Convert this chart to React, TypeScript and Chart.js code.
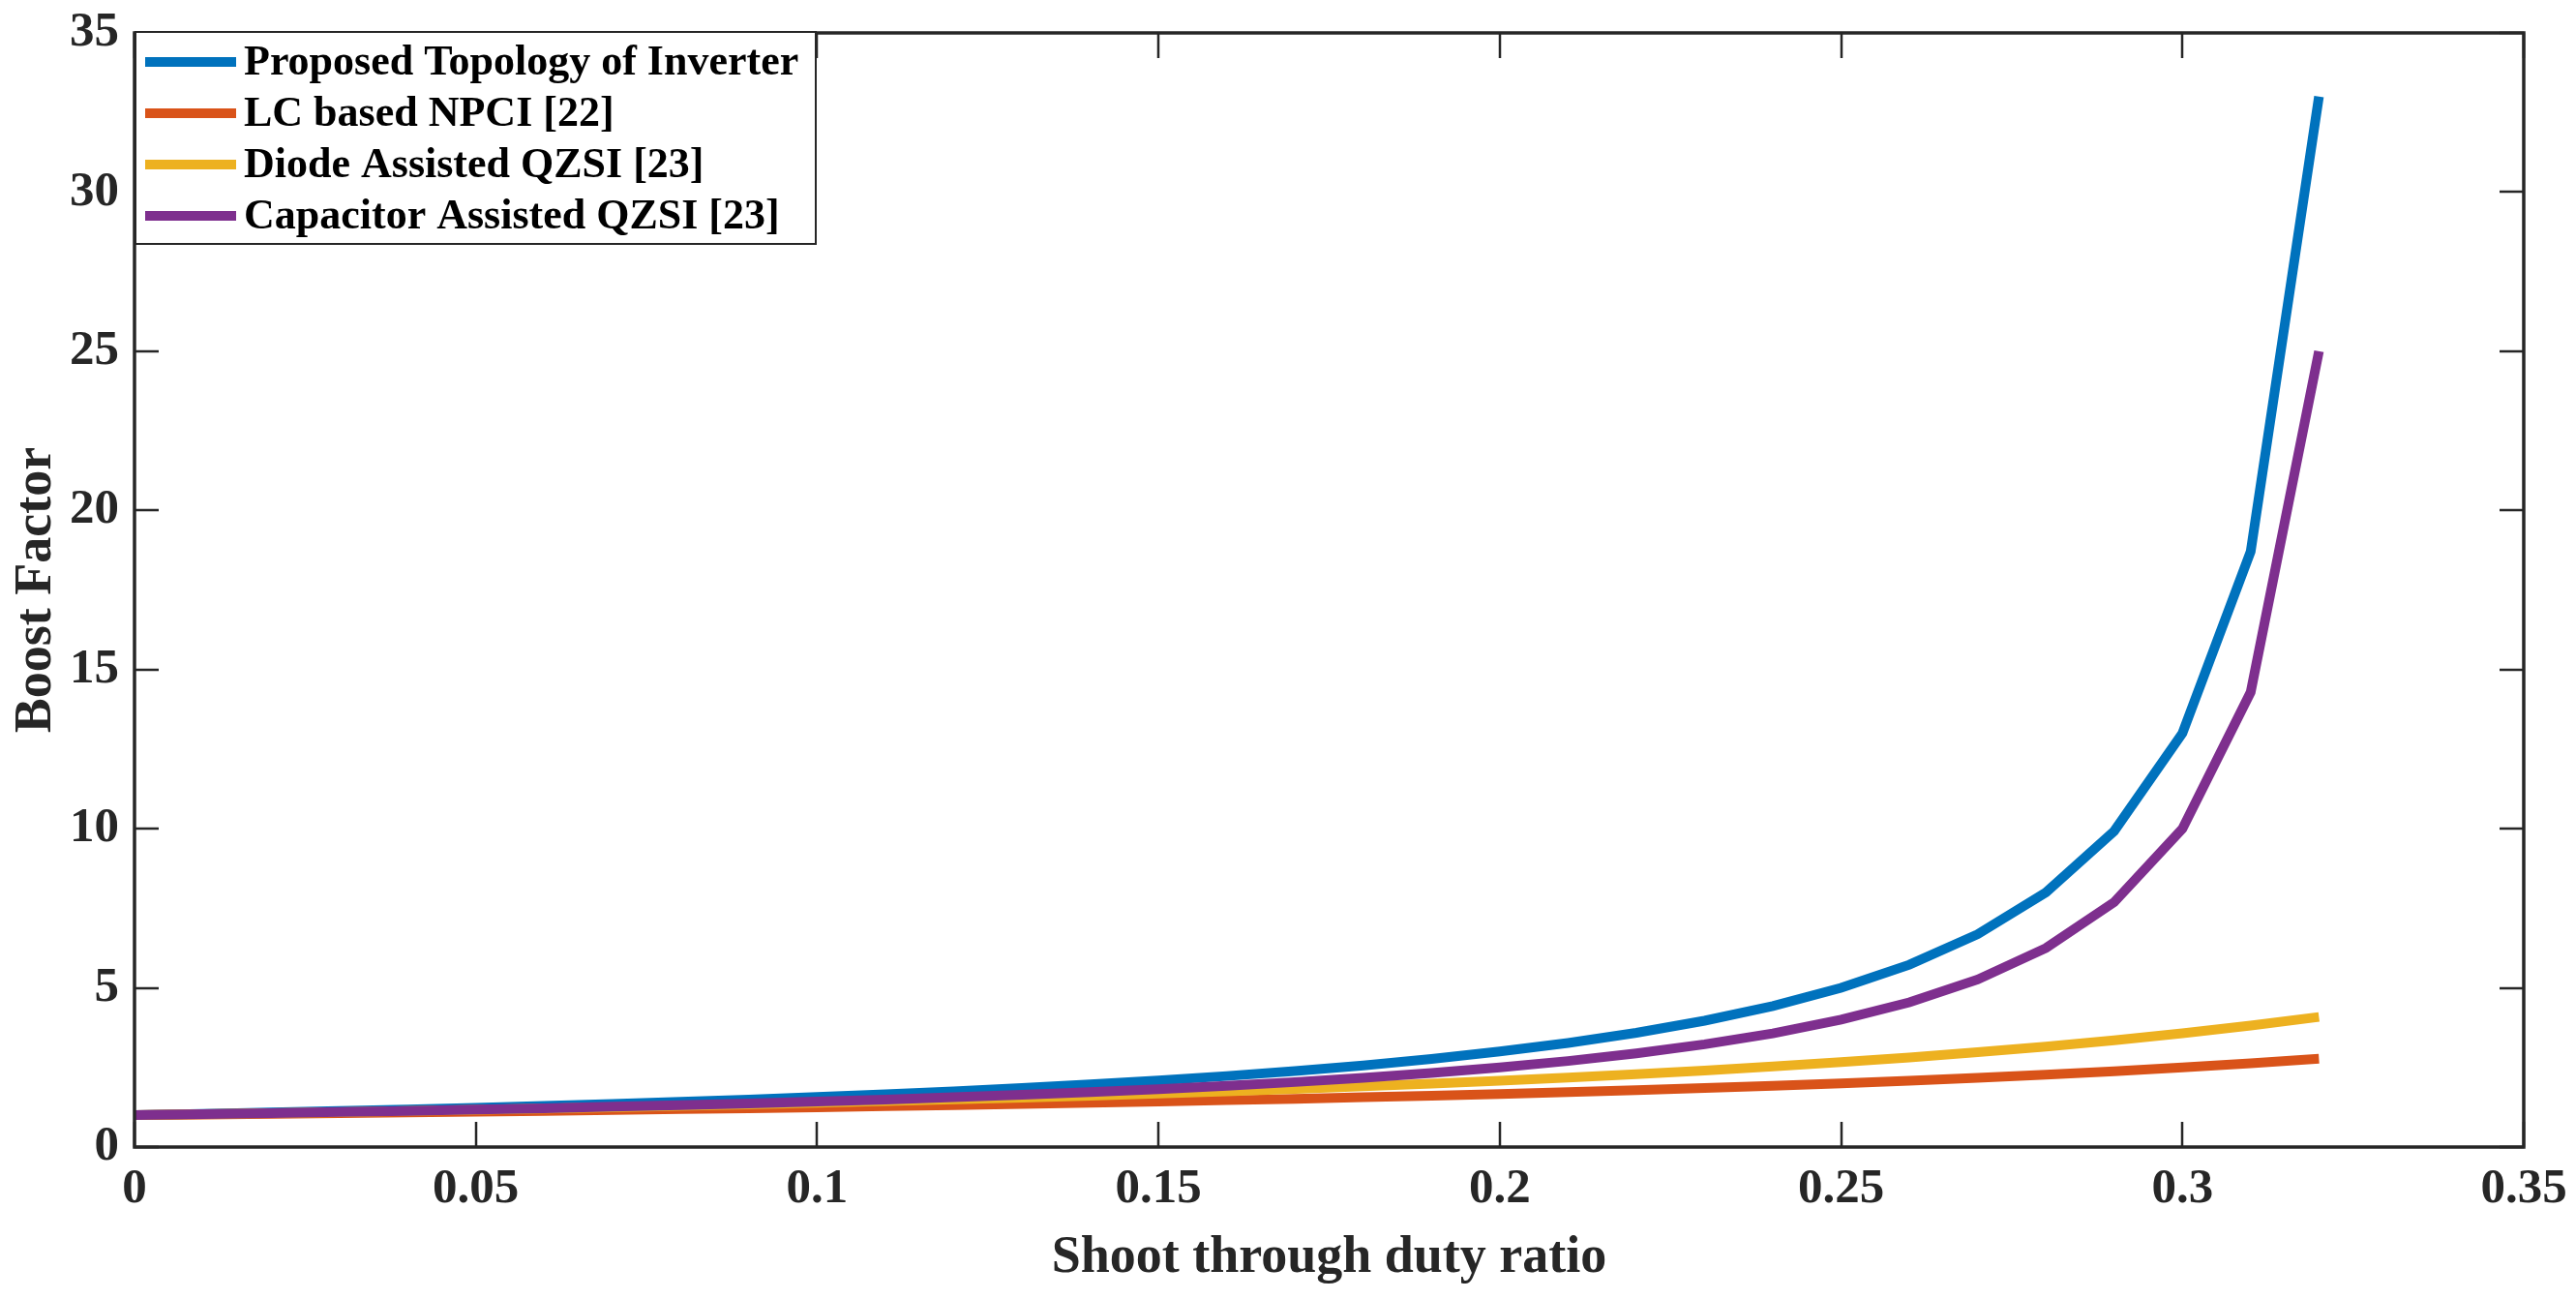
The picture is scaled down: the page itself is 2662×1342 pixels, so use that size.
import React, { useEffect, useRef } from "react";
import { Chart, registerables } from "chart.js";

Chart.register(...registerables);

const dutyRatio = [
  0, 0.01, 0.02, 0.03, 0.04, 0.05, 0.06, 0.07, 0.08, 0.09, 0.1, 0.11, 0.12, 0.13, 0.14, 0.15, 0.16,
  0.17, 0.18, 0.19, 0.2, 0.21, 0.22, 0.23, 0.24, 0.25, 0.26, 0.27, 0.28, 0.29, 0.3, 0.31, 0.32,
];

const proposedTopology = [
  1.0, 1.041, 1.085, 1.132, 1.182, 1.235, 1.293, 1.354, 1.421, 1.493, 1.571, 1.657, 1.75, 1.853,
  1.966, 2.091, 2.231, 2.388, 2.565, 2.767, 3.0, 3.27, 3.588, 3.968, 4.429, 5.0, 5.727, 6.684, 8.0,
  9.923, 13.0, 18.71, 33.0,
];

const lcBasedNPCI = [
  1.0, 1.02, 1.042, 1.064, 1.087, 1.111, 1.136, 1.163, 1.19, 1.22, 1.25, 1.282, 1.316, 1.351, 1.389,
  1.429, 1.471, 1.515, 1.563, 1.613, 1.667, 1.724, 1.786, 1.852, 1.923, 2.0, 2.083, 2.174, 2.273,
  2.381, 2.5, 2.632, 2.778,
];

const diodeAssistedQZSI = [
  1.0, 1.031, 1.063, 1.097, 1.132, 1.17, 1.209, 1.25, 1.294, 1.34, 1.389, 1.441, 1.495, 1.553, 1.615,
  1.681, 1.751, 1.826, 1.906, 1.991, 2.083, 2.183, 2.289, 2.405, 2.53, 2.667, 2.815, 2.978, 3.157,
  3.354, 3.571, 3.814, 4.085,
];

const capacitorAssistedQZSI = [
  1.0, 1.031, 1.064, 1.099, 1.136, 1.176, 1.22, 1.266, 1.316, 1.37, 1.429, 1.493, 1.563, 1.639, 1.724,
  1.818, 1.923, 2.041, 2.174, 2.326, 2.5, 2.703, 2.941, 3.226, 3.571, 4.0, 4.545, 5.263, 6.25, 7.692,
  10.0, 14.29, 25.0,
];

const seriesLabels = [
  "Proposed Topology of Inverter",
  "LC based NPCI [22]",
  "Diode Assisted QZSI [23]",
  "Capacitor Assisted QZSI [23]",
];
const seriesColors = ["#0072BD", "#D95319", "#EDB120", "#7E2F8E"];

const xTickValues = [0, 0.05, 0.1, 0.15, 0.2, 0.25, 0.3, 0.35];
const xTickLabels = ["0", "0.05", "0.1", "0.15", "0.2", "0.25", "0.3", "0.35"];
const yTickValues = [0, 5, 10, 15, 20, 25, 30, 35];
const yTickLabels = ["0", "5", "10", "15", "20", "25", "30", "35"];

const xTitle = "Shoot through duty ratio";
const yTitle = "Boost Factor";

const FONT = "'Liberation Serif', 'Times New Roman', serif";
const AXIS_COLOR = "#262626";

const framePlugin = {
  id: "matlabFrame",
  afterDatasetsDraw(chart: any) {
    const { ctx, chartArea, scales } = chart;
    const { left, right, top, bottom } = chartArea;
    const xs = scales.x;
    const ys = scales.y;
    ctx.save();
    ctx.strokeStyle = AXIS_COLOR;
    ctx.lineWidth = 2.5;
    ctx.beginPath();
    xs.ticks.forEach((t: any) => {
      const px = Math.round(xs.getPixelForValue(t.value));
      ctx.moveTo(px, bottom);
      ctx.lineTo(px, bottom - 26);
      ctx.moveTo(px, top);
      ctx.lineTo(px, top + 26);
    });
    ys.ticks.forEach((t: any) => {
      const py = Math.round(ys.getPixelForValue(t.value));
      ctx.moveTo(left, py);
      ctx.lineTo(left + 25, py);
      ctx.moveTo(right, py);
      ctx.lineTo(right - 25, py);
    });
    ctx.stroke();
    ctx.lineWidth = 3.5;
    ctx.strokeRect(left, top, right - left, bottom - top);

    // legend box (MATLAB style, inside the axes, north-west)
    const bx = left + 1;
    const by = top - 1;
    const bw = 703;
    const bh = 219;
    ctx.fillStyle = "#ffffff";
    ctx.fillRect(bx, by, bw, bh);
    ctx.lineWidth = 2;
    ctx.strokeStyle = AXIS_COLOR;
    ctx.strokeRect(bx, by, bw, bh);
    ctx.font = `bold 44px ${FONT}`;
    ctx.textBaseline = "middle";
    ctx.textAlign = "left";
    chart.data.datasets.forEach((ds: any, i: number) => {
      const ry = by + 31 + i * 53;
      ctx.strokeStyle = ds.borderColor;
      ctx.lineWidth = 10;
      ctx.beginPath();
      ctx.moveTo(bx + 10, ry);
      ctx.lineTo(bx + 104, ry);
      ctx.stroke();
      ctx.fillStyle = "#000000";
      ctx.fillText(ds.label, bx + 112, ry + 2);
    });
    ctx.restore();
  },
};

export default function App() {
  const canvasRef = useRef<HTMLCanvasElement | null>(null);

  useEffect(() => {
    const canvas = canvasRef.current;
    if (!canvas) return;
    const series = [proposedTopology, lcBasedNPCI, diodeAssistedQZSI, capacitorAssistedQZSI];
    const drawOrder = [3, 2, 1, 0];
    const datasets = series.map((vals, i) => ({
      label: seriesLabels[i],
      data: dutyRatio.map((d, j) => ({ x: d, y: vals[j] })),
      borderColor: seriesColors[i],
      backgroundColor: seriesColors[i],
      borderWidth: 10,
      pointRadius: 0,
      tension: 0,
      fill: false,
      order: drawOrder[i],
    }));

    const chart = new Chart(canvas, {
      type: "line",
      data: { datasets },
      options: {
        animation: false,
        responsive: false,
        devicePixelRatio: 1,
        layout: { padding: { top: 34, right: 54, left: 0, bottom: 0 } },
        plugins: {
          legend: { display: false },
          tooltip: { enabled: false },
        },
        scales: {
          x: {
            type: "linear",
            min: 0,
            max: 0.35,
            afterBuildTicks: (scale: any) => {
              scale.ticks = xTickValues.map((v) => ({ value: v }));
            },
            afterFit: (scale: any) => {
              scale.height = 157;
              scale.paddingLeft = 0;
              scale.paddingRight = 0;
            },
            grid: { display: false, drawTicks: false },
            border: { display: false },
            ticks: {
              autoSkip: false,
              maxRotation: 0,
              padding: 13,
              color: AXIS_COLOR,
              font: { family: FONT, size: 51, weight: "bold" },
              callback: (_v: any, i: number) => xTickLabels[i],
            },
            title: {
              display: true,
              text: xTitle,
              color: AXIS_COLOR,
              font: { family: FONT, size: 54, weight: "bold" },
              padding: { top: 0, bottom: 10 },
            },
          },
          y: {
            type: "linear",
            min: 0,
            max: 35,
            afterBuildTicks: (scale: any) => {
              scale.ticks = yTickValues.map((v) => ({ value: v }));
            },
            afterFit: (scale: any) => {
              scale.width = 139;
              scale.paddingTop = 0;
              scale.paddingBottom = 0;
            },
            grid: { display: false, drawTicks: false },
            border: { display: false },
            ticks: {
              autoSkip: false,
              padding: 16,
              color: AXIS_COLOR,
              font: { family: FONT, size: 51, weight: "bold" },
              callback: (_v: any, i: number) => yTickLabels[i],
            },
            title: {
              display: true,
              text: yTitle,
              color: AXIS_COLOR,
              font: { family: FONT, size: 54, weight: "bold" },
              padding: { top: 6, bottom: 0 },
            },
          },
        },
      },
      plugins: [framePlugin],
    });
    return () => chart.destroy();
  }, []);

  return (
    <div
      style={{
        position: "absolute",
        left: 0,
        top: 0,
        width: 2662,
        height: 1342,
        background: "#ffffff",
      }}
    >
      <canvas ref={canvasRef} width={2662} height={1342} style={{ width: 2662, height: 1342, display: "block" }} />
    </div>
  );
}
